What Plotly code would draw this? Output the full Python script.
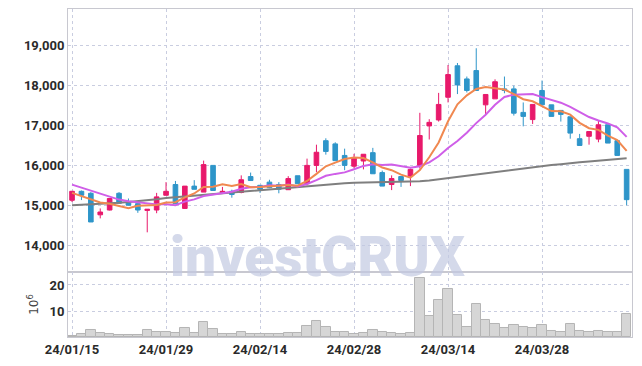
import plotly.graph_objects as go
from plotly.subplots import make_subplots

dates = ["2024-01-15","2024-01-16","2024-01-17","2024-01-18","2024-01-19",
         "2024-01-22","2024-01-23","2024-01-24","2024-01-25","2024-01-26",
         "2024-01-29","2024-01-30","2024-01-31","2024-02-01","2024-02-02",
         "2024-02-05","2024-02-06","2024-02-07","2024-02-08","2024-02-13",
         "2024-02-14","2024-02-15","2024-02-16","2024-02-19","2024-02-20",
         "2024-02-21","2024-02-22","2024-02-23","2024-02-26","2024-02-27",
         "2024-02-28","2024-02-29","2024-03-04","2024-03-05","2024-03-06",
         "2024-03-07","2024-03-08","2024-03-11","2024-03-12","2024-03-13",
         "2024-03-14","2024-03-15","2024-03-18","2024-03-19","2024-03-20",
         "2024-03-21","2024-03-22","2024-03-25","2024-03-26","2024-03-27",
         "2024-03-28","2024-03-29","2024-04-01","2024-04-02","2024-04-03",
         "2024-04-04","2024-04-05","2024-04-08","2024-04-09","2024-04-11"]

open_ = [15125,15350,15300,14760,14880,15300,15080,15040,14870,14880,
         15250,15520,14920,15480,15330,16000,15320,15350,15320,15720,
         15500,15580,15520,15390,15740,15540,16000,16620,16540,16250,
         15980,16110,16320,15820,15520,15720,15730,16000,16990,17140,
         17710,18500,18170,18380,17520,17670,17920,17920,17330,17150,
         17880,17520,17380,17220,16670,16730,16660,17020,16620,15900]
high = [15360,15370,15330,14920,15170,15330,15170,15060,14900,15310,
        15580,15610,15480,15630,16120,16000,15460,15390,15750,15820,
        15500,15640,15580,15730,15740,16170,16520,16680,16580,16420,
        16290,16280,16440,15870,15750,15720,15920,17320,17160,17820,
        18520,18570,18230,18940,17780,18160,18230,18000,17580,17530,
        18130,17520,17380,17220,16790,16850,17120,17020,16620,15900]
low = [15080,15130,14580,14670,14870,15050,15000,14810,14320,14800,
       15250,15040,14910,15400,15330,15370,15310,15190,15300,15620,
       15310,15430,15300,15390,15540,15500,15830,16270,16120,15880,
       15930,15900,15790,15480,15380,15460,15480,15920,16650,17100,
       17580,17790,17830,17880,17280,17670,17810,17250,16980,17040,
       17520,17230,17100,16670,16500,16520,16580,16560,16250,15000]
close = [15350,15250,14580,14830,15170,15050,15000,14880,14900,15210,
         15350,15040,15480,15400,16020,15370,15350,15270,15640,15620,
         15400,15440,15400,15670,15540,16000,16330,16350,16120,16000,
         16180,16280,15790,15480,15670,15620,15900,16750,17080,17530,
         18280,18020,17880,17880,17780,18100,17880,17310,17230,17530,
         17520,17230,17280,16810,16500,16850,17020,16560,16250,15140]

ma5 = [15310,15230,15140,15070,15036,14976,14926,14986,15000,15008,
       15068,15076,15196,15296,15458,15462,15524,15482,15530,15450,
       15456,15474,15500,15506,15490,15610,15788,15978,16068,16160,
       16196,16186,16074,15946,15880,15768,15692,15884,16204,16576,
       17108,17532,17758,17918,17968,17932,17904,17790,17660,17610,
       17494,17364,17358,17274,17068,16934,16892,16748,16636,16364]
ma10 = [15517,15442,15358,15292,15208,15142,15100,15075,15058,15022,
        15022,15001,15091,15148,15233,15265,15300,15339,15413,15454,
        15459,15499,15491,15518,15470,15533,15631,15739,15787,15825,
        15903,15987,16026,16007,16020,15982,15939,15979,16075,16228,
        16438,16612,16821,17061,17272,17520,17718,17774,17789,17789,
        17713,17634,17574,17467,17339,17214,17128,17053,16955,16716]
ma_long = [15000,15010,15020,15030,15040,15060,15080,15100,15120,15150,
           15180,15200,15220,15240,15260,15280,15300,15320,15340,15360,
           15380,15400,15420,15450,15470,15490,15510,15530,15545,15555,
           15565,15570,15575,15580,15580,15585,15590,15600,15620,15650,
           15690,15720,15750,15780,15810,15840,15870,15900,15930,15960,
           15990,16010,16030,16060,16080,16100,16120,16140,16160,16180]

volume = [0.5,1.0,2.6,1.5,1.0,0.6,0.6,0.6,2.6,1.9,
          1.9,1.5,3.3,1.5,5.6,2.9,1.0,1.0,1.9,1.1,
          1.0,1.0,1.0,1.5,1.5,4.1,6.2,3.7,1.9,1.9,
          1.1,1.5,2.6,1.9,1.5,1.1,1.5,22.6,8.1,14.1,
          18.3,8.5,3.7,12.6,6.5,5.0,3.3,4.6,4.0,3.3,
          4.6,2.3,1.9,5.0,2.3,1.9,2.3,1.9,1.9,8.8]

tick_dates = dates[::10]
tick_labels = [d[2:4] + "/" + d[5:7] + "/" + d[8:10] for d in tick_dates]

UP = "#e8196b"
DOWN = "#2e95c9"
TICKFONT = dict(family="Roboto, sans-serif", size=13, color="#2a2a2a", weight="bold")
GRID = "#c9cde0"

fig = make_subplots(rows=2, cols=1, shared_xaxes=True, vertical_spacing=0,
                    row_heights=[0.8018, 0.1982])

fig.add_trace(go.Bar(x=dates, y=volume, marker=dict(color="#d6d6d6",
                     line=dict(color="#b5b5b5", width=1)),
                     width=1.0, showlegend=False), row=2, col=1)

fig.add_trace(go.Scatter(x=dates, y=ma_long, mode="lines",
                         line=dict(color="#7f7f7f", width=2), showlegend=False), row=1, col=1)
fig.add_trace(go.Candlestick(x=dates, open=open_, high=high, low=low, close=close,
                             increasing=dict(line=dict(color=UP, width=1), fillcolor=UP),
                             decreasing=dict(line=dict(color=DOWN, width=1), fillcolor=DOWN),
                             showlegend=False), row=1, col=1)
fig.add_trace(go.Scatter(x=dates, y=ma10, mode="lines",
                         line=dict(color="#cf5ee8", width=2), showlegend=False), row=1, col=1)
fig.add_trace(go.Scatter(x=dates, y=ma5, mode="lines",
                         line=dict(color="#f08850", width=2), showlegend=False), row=1, col=1)

fig.add_annotation(text="investCRUX", xref="paper", yref="paper", x=0.443, y=0.243,
                   yanchor="middle", showarrow=False, opacity=0.7,
                   font=dict(family="Roboto, sans-serif", size=55, color="#c3c9e2", weight=900))

fig.update_xaxes(type="category", range=[-0.43, 59.57], rangeslider_visible=False,
                 showgrid=True, gridcolor=GRID, griddash="dot", gridwidth=1,
                 tickmode="array", tickvals=tick_dates, ticktext=tick_labels,
                 showline=True, linecolor="#c8c8d0", mirror=True, ticks="",
                 tickfont=TICKFONT, automargin=False)
fig.update_xaxes(showticklabels=False, row=1, col=1)

fig.update_yaxes(range=[13325, 19925], tickvals=[14000,15000,16000,17000,18000,19000],
                 tickformat=",d", row=1, col=1)
fig.update_yaxes(range=[0, 25], tickvals=[10, 20], row=2, col=1,
                 title=dict(text="10<sup>6</sup>", standoff=8,
                            font=dict(family="DejaVu Sans", size=12, color="#444")))
fig.update_yaxes(showgrid=True, gridcolor=GRID, griddash="dot", gridwidth=1,
                 showline=True, linecolor="#c8c8d0", mirror=True, ticks="",
                 zeroline=False, tickfont=TICKFONT, automargin=False)

fig.update_layout(width=634, height=358, margin=dict(l=60, r=10, t=1, b=29),
                  paper_bgcolor="white", plot_bgcolor="white", showlegend=False,
                  bargap=0)

fig.write_html("out.html")
